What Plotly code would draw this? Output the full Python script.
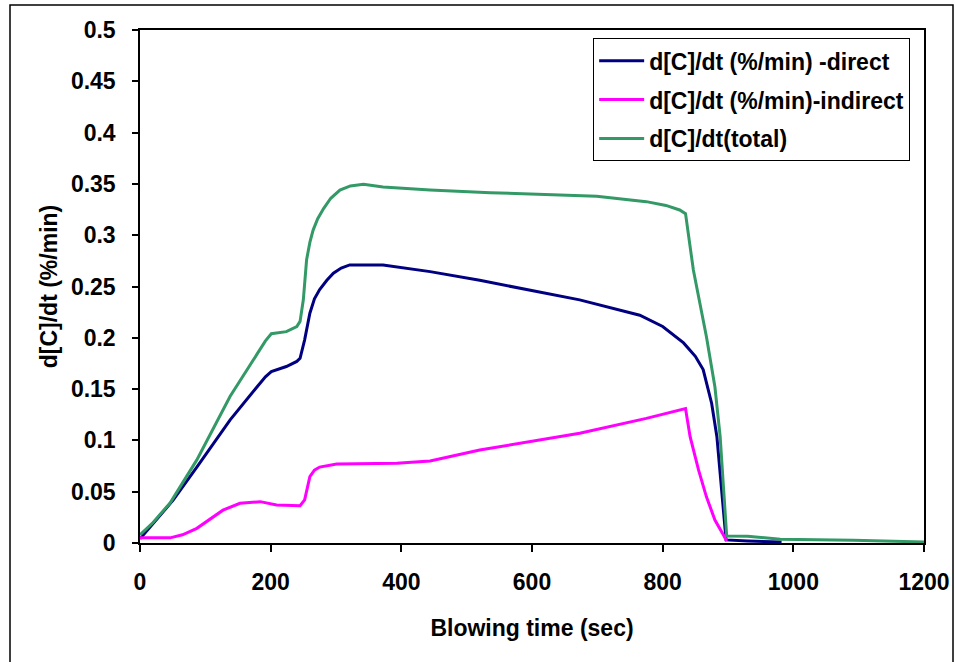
import plotly.graph_objects as go

# Blowing time (sec) and d[C]/dt values
time_total = [0, 20, 46, 87, 138, 179, 192, 201, 224, 240, 245, 250, 255, 260, 265, 272, 281, 292, 306, 322, 342, 372, 444,
              536, 699, 775, 805, 826, 835, 847, 867, 880, 888, 893, 898, 930, 980, 1092, 1200]
dcdt_total = [0.008, 0.02, 0.039, 0.081, 0.143, 0.185, 0.197, 0.204, 0.206, 0.211, 0.216, 0.237, 0.276, 0.293, 0.305, 0.316,
              0.326, 0.336, 0.344, 0.348, 0.3496, 0.347, 0.344, 0.3414, 0.338, 0.3327, 0.329, 0.3246, 0.321,
              0.266, 0.201, 0.152, 0.1036, 0.055, 0.0068, 0.0066, 0.0036, 0.0026, 0.001]

time_direct = [0, 51, 87, 138, 179, 192, 201, 224, 240, 245, 252, 260, 267, 275, 286, 296, 308, 321, 372, 444,
               520, 673, 765, 800, 832, 850, 862, 875, 883, 890, 897, 930, 982]
dcdt_direct = [0.004, 0.042, 0.074, 0.120, 0.152, 0.162, 0.167, 0.172, 0.177, 0.180, 0.198, 0.224,
               0.238, 0.247, 0.256, 0.263, 0.268, 0.271, 0.271, 0.2645, 0.256, 0.237, 0.222, 0.211, 0.195,
               0.182, 0.169, 0.136, 0.1036, 0.055, 0.003, 0.002, 0.001]

time_indirect = [0, 46, 65, 87, 127, 153, 184, 209, 245, 252, 260, 267, 275, 301, 393, 444,
                 520, 673, 775, 826, 835, 842, 855, 867, 880, 893, 898]
dcdt_indirect = [0.005, 0.005, 0.008, 0.0143, 0.032, 0.0387, 0.0403, 0.037, 0.0364, 0.042,
                 0.0646, 0.071, 0.074, 0.077, 0.0777, 0.080, 0.0906, 0.107, 0.1215, 0.1296,
                 0.131, 0.1036, 0.071, 0.045, 0.0224, 0.0078, 0.002]

names = ["d[C]/dt (%/min) -direct", "d[C]/dt (%/min)-indirect", "d[C]/dt(total)"]
colors = ["#000080", "#FF00FF", "#339966"]

x_ticks = [0, 200, 400, 600, 800, 1000, 1200]
y_ticks = [0, 0.05, 0.1, 0.15, 0.2, 0.25, 0.3, 0.35, 0.4, 0.45, 0.5]
y_tick_text = ["0", "0.05", "0.1", "0.15", "0.2", "0.25", "0.3", "0.35", "0.4", "0.45", "0.5"]

FONT = "Liberation Sans, Arial, sans-serif"
FS = 23

fig = go.Figure()
series = [(time_direct, dcdt_direct), (time_indirect, dcdt_indirect), (time_total, dcdt_total)]
for i, ((xs, ys), nm, col) in enumerate(zip(series, names, colors)):
    fig.add_trace(go.Scatter(x=xs, y=ys, mode="lines", name=nm, legendgroup=f"g{i}",
                             line=dict(color=col, width=3)))

fig.update_layout(
    width=955, height=662, autosize=False,
    margin=dict(l=140, r=31, t=30, b=119, autoexpand=False),
    paper_bgcolor="white", plot_bgcolor="white",
    font=dict(family=FONT, size=FS, color="black", weight="bold"),
    legend=dict(x=0.578, y=0.984, xanchor="left", yanchor="top",
                bordercolor="black", borderwidth=1, bgcolor="white",
                traceorder="grouped", tracegroupgap=6, itemwidth=45,
                font=dict(family=FONT, size=FS, color="black", weight="bold")),
    xaxis=dict(range=[0, 1200], tickvals=x_ticks, ticks="outside", ticklen=7,
               tickwidth=1.5, tickcolor="black", showline=True, linecolor="black",
               linewidth=1.5, mirror=True, showgrid=False, zeroline=False,
               automargin=False,
               tickfont=dict(family=FONT, size=FS, weight="bold"),
               ticklabelstandoff=11,
               title=dict(text="Blowing time (sec)", standoff=26,
                          font=dict(family=FONT, size=FS, weight="bold"))),
    yaxis=dict(range=[0, 0.5], tickvals=y_ticks, ticktext=y_tick_text, ticks="outside",
               ticklen=6, tickwidth=1.5, tickcolor="black", showline=True,
               linecolor="black", linewidth=1.5, mirror=True, showgrid=False,
               zeroline=False, ticklabelstandoff=12, automargin=False,
               tickfont=dict(family=FONT, size=FS, weight="bold"),
               title=dict(text="d[C]/dt (%/min)", standoff=7,
                          font=dict(family=FONT, size=FS, weight="bold"))),
    shapes=[dict(type="rect", xref="paper", yref="paper",
                 x0=(10 - 140) / 784, x1=(953 - 140) / 784,
                 y0=(543 - 670) / 513, y1=(543 - 5) / 513,
                 line=dict(color="black", width=1.5), fillcolor="rgba(0,0,0,0)",
                 layer="below")],
)

fig.write_html("out.html", config={"displayModeBar": False},
               post_script="document.body.style.margin='0';document.body.style.overflow='hidden';")
